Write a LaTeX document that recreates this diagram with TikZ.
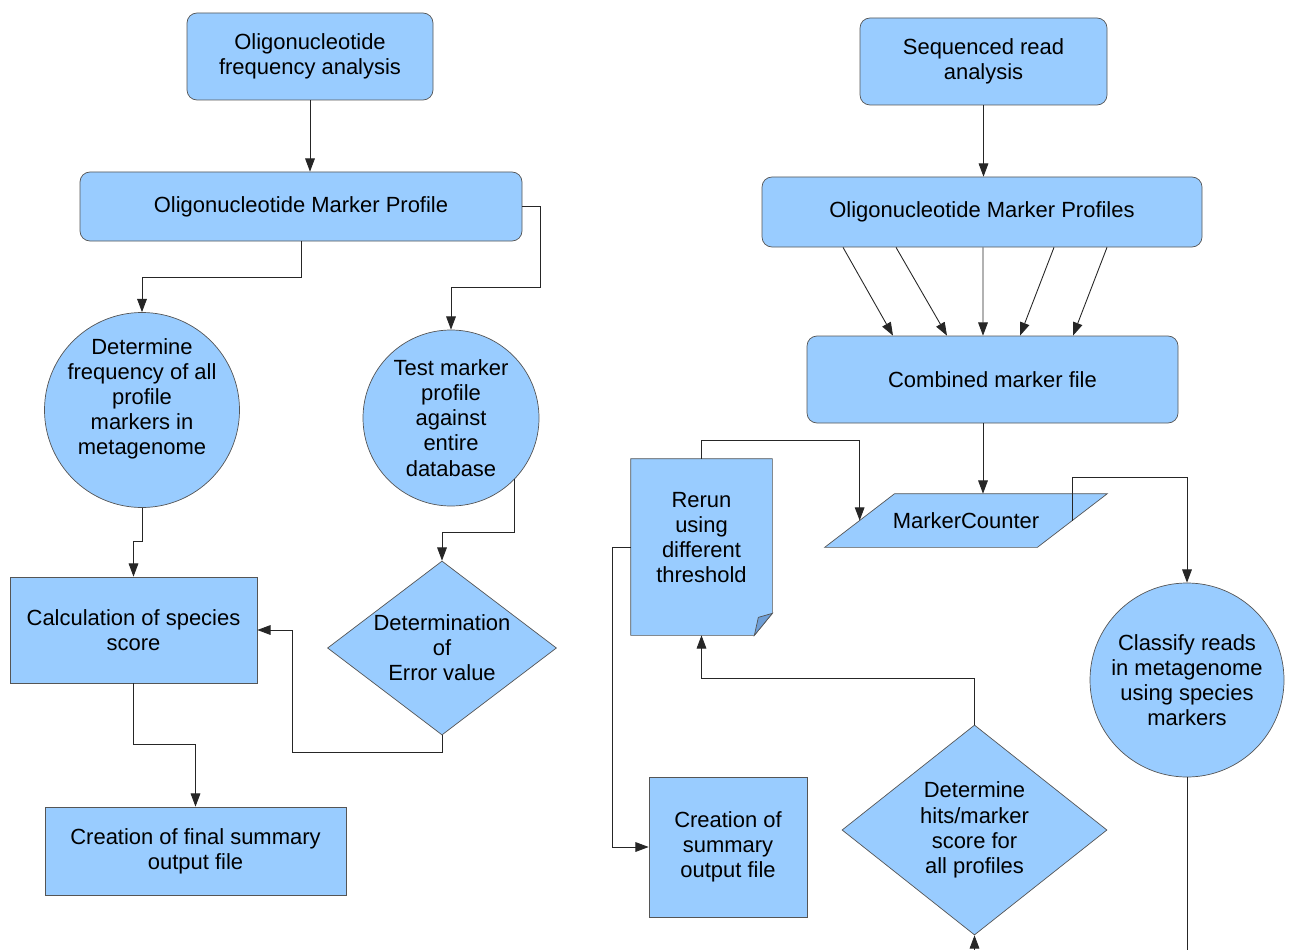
\documentclass[tikz,border=0pt]{standalone}
\usepackage{fontspec}
\setmainfont{Liberation Sans}
\usetikzlibrary{shapes.geometric, arrows.meta, positioning, calc}
\definecolor{boxfill}{HTML}{99CCFF}
\definecolor{boxline}{HTML}{555555}
\definecolor{foldfill}{HTML}{6E9ED6}
\tikzset{
every node/.style={font=\fontsize{12.5}{14.3}\selectfont, align=center}, % sets the text for all nodes
box/.style={rectangle, draw=boxline, fill=boxfill, inner sep=0pt}, % plain process box
roundbox/.style={box, rounded corners=0.2cm}, % rounded process box
disc/.style={circle, draw=boxline, fill=boxfill, inner sep=0pt}, % round steps
decision/.style={diamond, draw=boxline, fill=boxfill, inner xsep=-0.3cm, inner ysep=-0.1cm}, % decisions
plain/.style={rectangle, inner sep=0pt}, % frame only, outline drawn by hand
arrow/.style={-{Triangle[length=7.5pt,width=5.5pt]}, draw=black!85, line width=0.5pt}, % directed connectors
link/.style={draw=black!85, line width=0.5pt}, % connectors with no head
}

\begin{document}
\begin{tikzpicture}
            \useasboundingbox (0,0) rectangle (25.78,-19);

            % left flow
            \node[roundbox, minimum width=4.92cm, minimum height=1.74cm] (ofa) at (6.20,-1.13) {Oligonucleotide\\frequency analysis};
            \node[roundbox, minimum width=8.84cm, minimum height=1.38cm] (omp) at (6.02,-4.13) {Oligonucleotide Marker Profile};
            \node[disc, minimum size=3.90cm] (det) at (2.84,-8.20) {};
            \node (dettxt) at ([yshift=0.22cm]det.center) {Determine\\frequency of all\\profile\\markers in\\metagenome};
            \node[disc, minimum size=3.52cm] (test) at (9.02,-8.36) {Test marker\\profile\\against\\entire\\database};
            \node[box, minimum width=4.94cm, minimum height=2.12cm] (calc) at (2.67,-12.60) {Calculation of species\\score};
            \node[decision, minimum width=4.58cm, minimum height=3.48cm] (errd) at (8.84,-12.96) {Determination\\of\\Error value};
            \node[box, minimum width=6.02cm, minimum height=1.76cm] (final) at (3.91,-17.02) {Creation of final summary\\output file};

            % right flow
            \node[roundbox, minimum width=4.94cm, minimum height=1.74cm] (sra) at (19.67,-1.23) {Sequenced read\\analysis};
            \node[roundbox, minimum width=8.80cm, minimum height=1.40cm] (omps) at (19.64,-4.24) {Oligonucleotide Marker Profiles};
            \node[roundbox, minimum width=7.42cm, minimum height=1.74cm] (comb) at (19.85,-7.59) {Combined marker file};
            \node[plain, minimum width=4.24cm, minimum height=1.06cm] (mc) at (19.32,-10.41) {};
            \node[plain, minimum width=2.82cm, minimum height=3.52cm] (rerun) at (14.03,-10.94) {};
            \node[disc, minimum size=3.88cm] (cls) at (23.74,-13.60) {Classify reads\\in metagenome\\using species\\markers};
            \node[box, minimum width=3.16cm, minimum height=2.80cm] (summ) at (14.56,-16.94) {Creation of\\summary\\output file};
            \node[decision, minimum width=5.30cm, minimum height=4.20cm] (hits) at (19.49,-16.60) {Determine\\hits/marker\\score for\\all profiles};
            \coordinate (hitsin) at (19.49,-19);
            \coordinate (clsout) at (23.74,-19);

            % parallelogram for the counter step
            \draw[draw=boxline, fill=boxfill] ([xshift=0.70cm]mc.north west) -- ([xshift=0.70cm]mc.north east)
                -- ([xshift=-0.70cm]mc.south east) -- ([xshift=-0.70cm]mc.south west) -- cycle;
            \node (mctxt) at (mc) {MarkerCounter};

            % document outline with folded corner
            \draw[draw=boxline, fill=boxfill] (rerun.north west) -- (rerun.north east)
                -- ([yshift=0.44cm]rerun.south east) -- ([xshift=-0.36cm]rerun.south east)
                -- (rerun.south west) -- cycle;
            \draw[draw=boxline, fill=foldfill] ([yshift=0.44cm]rerun.south east)
                -- ([xshift=-0.36cm]rerun.south east) -- ([xshift=-0.28cm, yshift=0.36cm]rerun.south east) -- cycle;
            \node (reruntxt) at ([yshift=0.19cm]rerun.center) {Rerun\\using\\different\\threshold};

            % left connectors
            \draw[arrow] (ofa.south) -- (ofa.south |- omp.north);
            \draw[arrow] (omp.south) -- ++(0,-0.72) -| (det.north);
            \draw[arrow] (omp.east) -- ++(0.36,0) -- ++(0,-1.61) -| (test.north);
            \draw[arrow] (det.south) -- ++(0,-0.68) -| (calc.north);
            \draw[arrow] (test.-44) -- ++(0,-1.06) -| (errd.north);
            \draw[arrow] (errd.south) -- ++(0,-0.34) -| ([xshift=0.70cm]calc.east) -- (calc.east);
            \draw[arrow] (calc.south) -- ++(0,-1.22) -| (final.north);

            % right connectors
            \draw[arrow] (sra.south) -- (sra.south |- omps.north);
            \foreach \s/\e in {-2.78/-1.99, -1.72/-0.91, 0.02/-0.19, 1.44/0.55, 2.50/1.61}
                \draw[arrow] ([xshift=\s cm]omps.south) -- ([xshift=\e cm]comb.north);
            \draw[arrow] ([xshift=-0.19cm]comb.south) -- ([xshift=-0.19cm]comb.south |- mc.north);
            \draw[arrow] (mc.east) -- ++(0,0.87) -| (cls.north);
            \draw[arrow] (rerun.north) -- ++(0,0.36) -| (mc.west);
            \draw[arrow] (rerun.west) -- ++(-0.36,0) |- (summ.west);
            \draw[arrow] (hits.north) -- ++(0,0.92) -| (rerun.south);
            \draw[arrow] (hitsin) -- (hits.south);
            \draw[link] (cls.south) -- (clsout);
        \end{tikzpicture}
\end{document}
